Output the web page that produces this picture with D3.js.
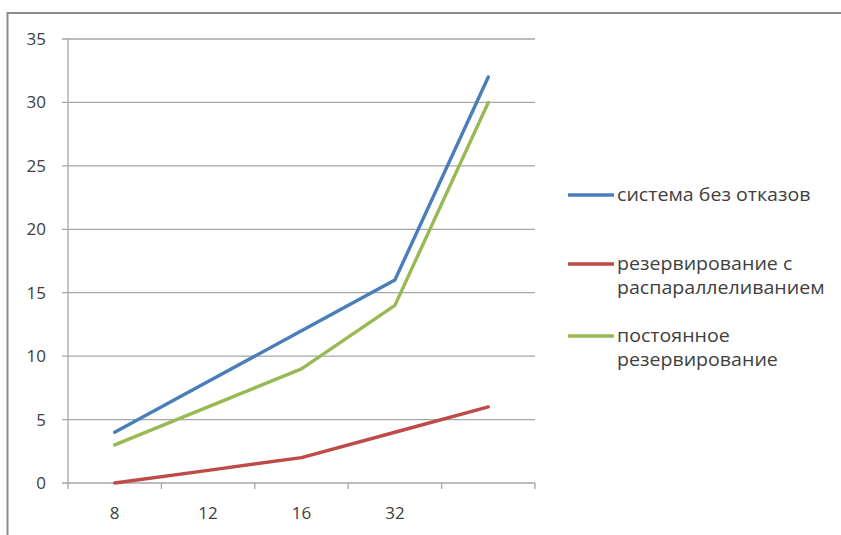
<!DOCTYPE html>
<html><head><meta charset="utf-8">
<script src="https://cdn.jsdelivr.net/npm/d3@7"></script>
<style>body{margin:0;background:#fff}svg{display:block}</style>
</head><body>
<svg id="c" width="841" height="535"></svg>
<script>
const categories = ["8", "12", "16", "32", ""];
const seriesNames = ["система без отказов", "резервирование с|распараллеливанием", "постоянное|резервирование"];
const seriesColors = ["#4a7ebb", "#be4b48", "#98b954"];
const noFailures = [4, 8, 12, 16, 32];
const parallelRedundancy = [0, 1, 2, 4, 6];
const constantRedundancy = [3, 6, 9, 14, 30];
const yTicks = [0, 5, 10, 15, 20, 25, 30, 35];

(function () {
const series = [noFailures, parallelRedundancy, constantRedundancy];
const svg = d3.select("#c");
const font = "'Open Sans', sans-serif";

// outer frame
svg.append("rect").attr("x", 7.5).attr("y", 13).attr("width", 900).attr("height", 600)
  .attr("fill", "none").attr("stroke", "#8c8c8c").attr("stroke-width", 2);

const pL = 68, pR = 535, pT = 39, pB = 483;
const x = d3.scaleBand().domain(d3.range(categories.length)).range([pL, pR]);
const y = d3.scaleLinear().domain([0, 35]).range([pB, pT]);

// gridlines
svg.append("g").selectAll("line").data(yTicks).join("line")
  .attr("x1", pL - 6).attr("x2", pR)
  .attr("y1", d => y(d)).attr("y2", d => y(d))
  .attr("stroke", "#a6a6a6").attr("stroke-width", 1.3);

// y axis line
svg.append("line").attr("x1", pL).attr("x2", pL).attr("y1", pT).attr("y2", pB)
  .attr("stroke", "#a6a6a6").attr("stroke-width", 1.3);

// y labels
svg.append("g").selectAll("text").data(yTicks).join("text")
  .attr("x", pL - 22).attr("y", d => y(d)).attr("dy", "0.35em")
  .attr("text-anchor", "end").attr("font-family", font).attr("font-size", 17)
  .attr("fill", "#404040").text(d => d);

// x axis ticks
const bounds = d3.range(categories.length + 1).map(i => pL + i * x.bandwidth());
svg.append("g").selectAll("line").data(bounds).join("line")
  .attr("x1", d => d).attr("x2", d => d).attr("y1", pB).attr("y2", pB + 6)
  .attr("stroke", "#a6a6a6").attr("stroke-width", 1.3);

svg.append("g").selectAll("text").data(categories).join("text")
  .attr("x", (d, i) => x(i) + x.bandwidth() / 2).attr("y", 513)
  .attr("dy", "0.35em").attr("text-anchor", "middle")
  .attr("font-family", font).attr("font-size", 17).attr("fill", "#404040").text(d => d);

// lines
const line = d3.line().x((d, i) => x(i) + x.bandwidth() / 2).y(d => y(d));
svg.append("g").selectAll("path").data(series).join("path")
  .attr("d", d => line(d)).attr("fill", "none")
  .attr("stroke", (d, i) => seriesColors[i]).attr("stroke-width", 3.4)
  .attr("stroke-linejoin", "round").attr("stroke-linecap", "round");

// legend
const legendY = [195, 264, 336];
const lg = svg.append("g");
seriesNames.forEach((name, i) => {
  lg.append("line").attr("x1", 568).attr("x2", 614).attr("y1", legendY[i]).attr("y2", legendY[i])
    .attr("stroke", seriesColors[i]).attr("stroke-width", 3.4);
  name.split("|").forEach((s, j) => {
    lg.append("text")
      .attr("transform", `translate(617,${legendY[i] + j * 24}) scale(1.12,1)`)
      .attr("dy", "0.35em")
      .attr("font-family", font).attr("font-size", 17.5).attr("fill", "#404040").text(s);
  });
});
})();
</script>
</body></html>
